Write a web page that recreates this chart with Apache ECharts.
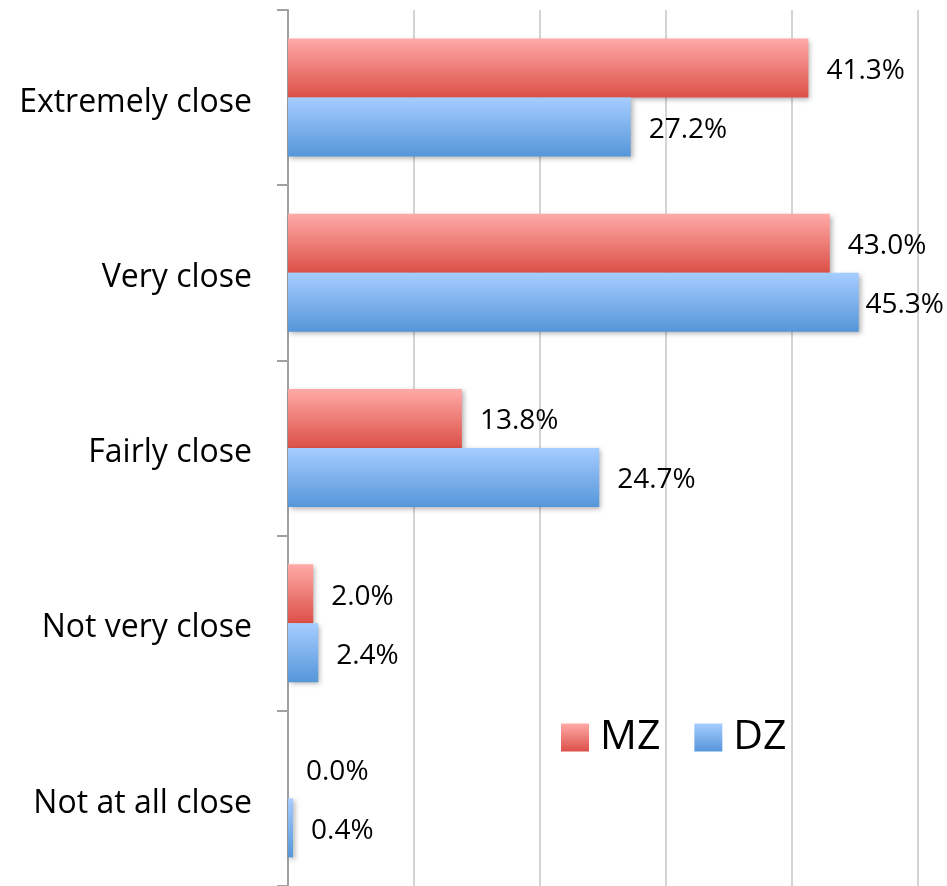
<!DOCTYPE html>
<html>
<head>
<meta charset="utf-8">
<script src="https://cdn.jsdelivr.net/npm/echarts@6/dist/echarts.min.js"></script>
<style>html,body{margin:0;padding:0;background:#fff}#c{width:947px;height:886px}</style>
</head>
<body>
<div id="c"></div>
<script>
const categories = ["Extremely close", "Very close", "Fairly close", "Not very close", "Not at all close"];
const mzValues = [41.3, 43.0, 13.8, 2.0, 0.0];
const dzValues = [27.2, 45.3, 24.7, 2.4, 0.4];
const seriesNames = ["MZ", "DZ"];

const FONT = "Open Sans";
function grad(top, bottom) {
  return new echarts.graphic.LinearGradient(0, 0, 0, 1, [
    { offset: 0, color: top }, { offset: 1, color: bottom }
  ]);
}
const chart = echarts.init(document.getElementById('c'));
const labelCfg = {
  show: true, position: 'right', distance: 18,
  fontFamily: FONT, fontSize: 28, color: '#000',
  formatter: p => p.value.toFixed(1) + '%'
};
function layoutFn(params) {
  const r = params.labelRect;
  const over = r.x + r.width - 944;
  return { dx: over > 0 ? -over : 0, dy: 3 };
}
chart.setOption({
  animation: false,
  grid: { left: 288, right: 29, top: 10, height: 880 },
  legend: {
    data: seriesNames, left: 561, top: 717, itemWidth: 28, itemHeight: 28, itemGap: 34, padding: 0,
    textStyle: { fontFamily: FONT, fontSize: 41, color: '#000', padding: [0, 0, 0, 6] },
    icon: 'rect'
  },
  xAxis: {
    type: 'value', min: 0, max: 50, interval: 10,
    axisLabel: { show: false }, axisLine: { show: false }, axisTick: { show: false },
    splitLine: { show: true, lineStyle: { color: '#d4d4d4', width: 2 } }
  },
  yAxis: {
    type: 'category', data: categories, inverse: true,
    axisLine: { show: true, lineStyle: { color: '#a0a0a0', width: 2 } },
    axisTick: { show: true, length: 11, lineStyle: { color: '#a0a0a0', width: 2 } },
    axisLabel: {
      margin: 36,
      formatter: v => '{a|' + v + '}',
      rich: { a: { fontFamily: FONT, fontSize: 32, color: '#000', padding: [10, 0, 0, 0] } }
    }
  },
  series: [
    {
      name: seriesNames[0], type: 'bar', data: mzValues, barWidth: 59, barGap: '0%',
      itemStyle: { color: grad('#ffaaa7', '#dc5048'), shadowColor: 'rgba(0,0,0,0.3)', shadowBlur: 5, shadowOffsetX: 2, shadowOffsetY: 2 },
      label: labelCfg, labelLayout: layoutFn
    },
    {
      name: seriesNames[1], type: 'bar', data: dzValues, barWidth: 59,
      itemStyle: { color: grad('#a6cdff', '#5596d9'), shadowColor: 'rgba(0,0,0,0.3)', shadowBlur: 5, shadowOffsetX: 2, shadowOffsetY: 2 },
      label: labelCfg, labelLayout: layoutFn
    }
  ]
});
</script>
</body>
</html>
